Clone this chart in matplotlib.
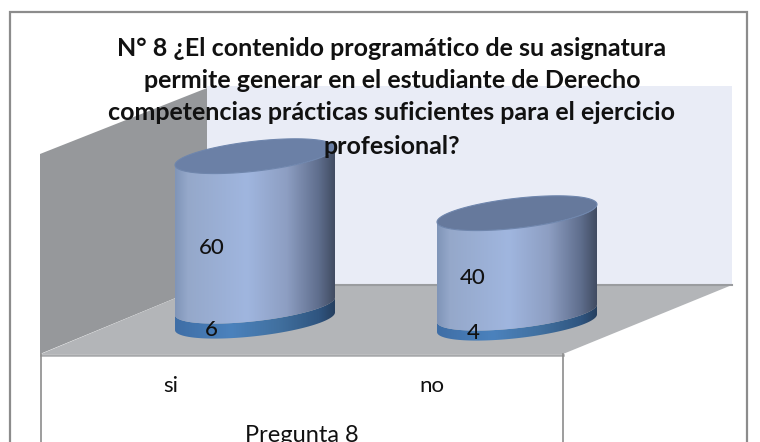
import numpy as np
import matplotlib
matplotlib.use("Agg")
import matplotlib.pyplot as plt
from matplotlib.patches import Polygon, Rectangle
from matplotlib.colors import LinearSegmentedColormap

# --- data
categories = ["si", "no"]
lower_values = [6, 4]
upper_values = [60, 40]
title_lines = ["N° 8 ¿El contenido programático de su asignatura",
               "permite generar en el estudiante de Derecho",
               "competencias prácticas suficientes para el ejercicio",
               "profesional?"]
axis_title = "Pregunta 8"

# --- layout (pixel space of the figure)
W, H = 760, 442
fig = plt.figure(figsize=(W/100, H/100), dpi=100, facecolor="white")
ax = fig.add_axes([0, 0, 1, 1])
ax.set_xlim(0, W); ax.set_ylim(H, 0); ax.axis("off")
FONT = "Lato"

cyl_left = [175, 437]
cyl_width = 160
base_left_y = [330, 332]
px_per_unit = 2.5
shear = 0.11
semi_b = 15

# frame
ax.add_patch(Rectangle((10, 12), 737, 460, fc="white", ec="#8c8c8c", lw=1.6, zorder=0))
# walls and floor
ax.add_patch(Polygon([(207, 86), (732, 86), (732, 285), (207, 285)], fc="#E9ECF6", ec="none", zorder=1))
ax.add_patch(Polygon([(40, 154), (207, 88), (207, 285), (40, 354)], fc="#96989B", ec="none", zorder=2))
ax.add_patch(Polygon([(41, 354), (207, 285), (732, 285), (563, 354)], fc="#B3B5B8", ec="none", zorder=2))
ax.plot([207, 732], [285, 285], color="#9a9c9f", lw=1.5, zorder=3)
ax.plot([41, 563], [354.5, 354.5], color="#a6a8aa", lw=1.8, zorder=3)
ax.plot([41, 41], [354, H], color="#8c8c8c", lw=1.2, zorder=3)
ax.plot([562.5, 562.5], [354, H], color="#8c8c8c", lw=1.2, zorder=3)

side = LinearSegmentedColormap.from_list("s", [(0, "#8095b8"), (.08, "#95a8ca"), (.45, "#a0b6df"),
                                               (.7, "#8d9ec2"), (.9, "#5f6e8d"), (1, "#414c62")])
band = LinearSegmentedColormap.from_list("b", [(0, "#3f6ea6"), (.35, "#4b82bd"), (.65, "#41709f"),
                                               (.9, "#2f5580"), (1, "#263f5f")])

def edge(cx, cy, a, t):
    return cx + a*np.cos(t), cy - shear*a*np.cos(t) + semi_b*np.sin(t)

def cylinder(x0, a, yb_left, yt_left, cmap, z, top=None):
    """Body between two sheared ellipses, given y of their left ends."""
    cx = x0 + a
    yb = yb_left - shear*a
    yt = yt_left - shear*a
    t = np.linspace(np.pi, 0, 80)           # lower half, left to right
    bx, by = edge(cx, yb, a, t)
    tx, ty = edge(cx, yt, a, t[::-1])
    pts = np.r_[np.c_[bx, by], np.c_[tx, ty]]
    patch = Polygon(pts, closed=True, fc="none", ec="none", zorder=z)
    ax.add_patch(patch)
    grad = np.linspace(0, 1, 256)[None, :]
    im = ax.imshow(grad, cmap=cmap, extent=[x0, x0+2*a, by.max()+2, ty.min()-2],
                   aspect="auto", zorder=z, interpolation="bilinear")
    im.set_clip_path(patch)
    if top is not None:
        t2 = np.linspace(0, 2*np.pi, 120)
        ex, ey = edge(cx, yt, a, t2)
        ax.add_patch(Polygon(np.c_[ex, ey], closed=True, fc=top, ec="#6f86ad", lw=.8, zorder=z+.5))

a = cyl_width/2
upper_pos = [(212, 248), (473, 278)]
lower_pos = [(211, 330), (473, 333)]
for i, cat in enumerate(categories):
    x0 = cyl_left[i]
    y0 = base_left_y[i]
    y1 = y0 - lower_values[i]*px_per_unit
    y2 = y1 - upper_values[i]*px_per_unit
    cylinder(x0, a, y0, y1, band, 5)
    cylinder(x0, a, y1, y2, side, 6, top="#6b80a6" if i == 0 else "#66799c")
    ax.text(*upper_pos[i], str(upper_values[i]), fontsize=16, family=FONT, fontweight="medium",
            ha="center", va="center", color="#111", zorder=8)
    ax.text(*lower_pos[i], str(lower_values[i]), fontsize=16, family=FONT, fontweight="medium",
            ha="center", va="center", color="#111", zorder=8)

ax.set_xlim(0, W); ax.set_ylim(H, 0)

for x, cat in zip([171, 432], categories):
    ax.text(x, 386, cat, fontsize=16, family=FONT, ha="center", va="center", color="#111", zorder=8)
ax.text(302, 436, axis_title, fontsize=17, family=FONT, ha="center", va="center", color="#111", zorder=8)

for y, line, in zip([48, 81, 113, 146], title_lines):
    ax.text(392, y, line, fontsize=18, family=FONT, fontweight="bold",
            ha="center", va="center", color="#111", zorder=9)

fig.savefig("out.png", dpi=100)
